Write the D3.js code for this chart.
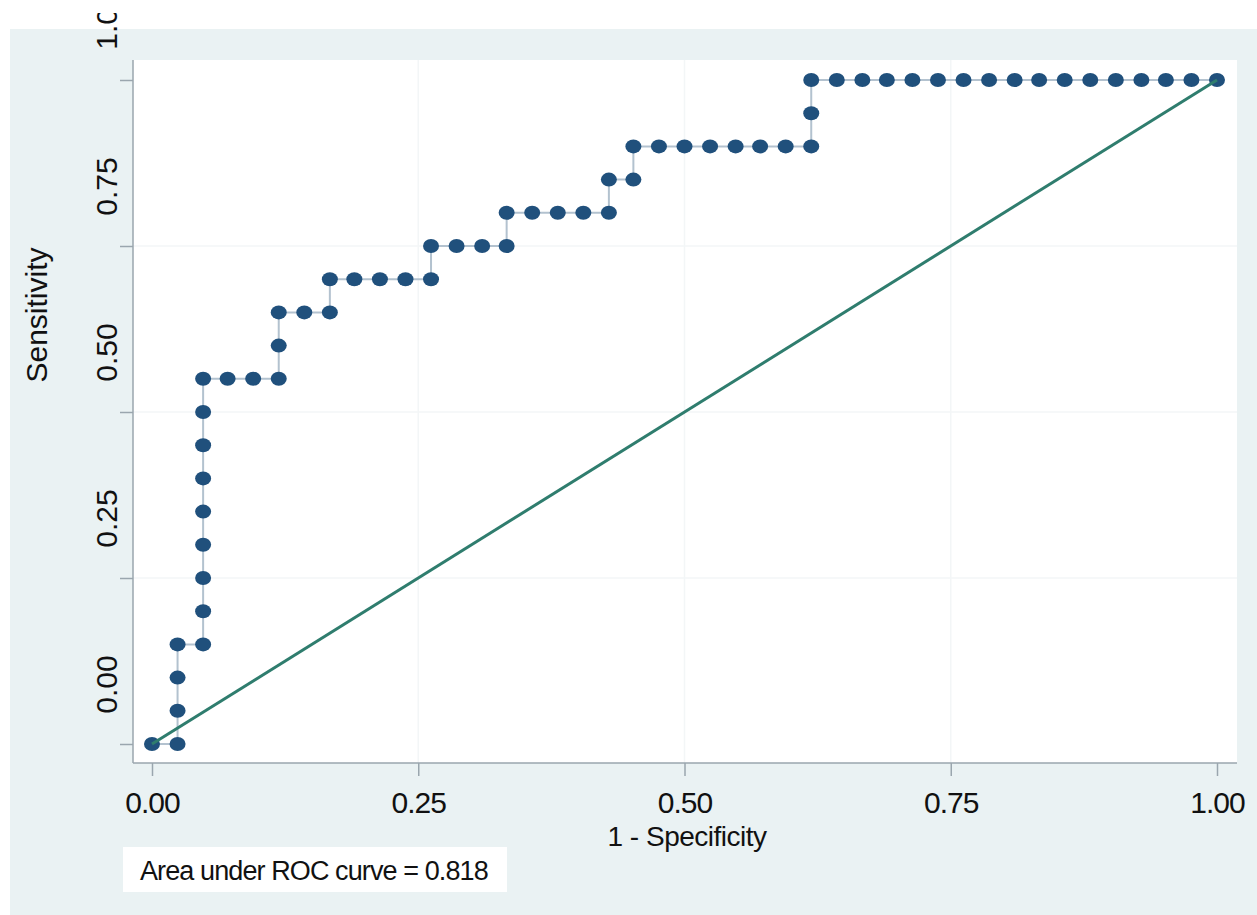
<!DOCTYPE html>
<html>
<head>
<meta charset="utf-8">
<script src="https://cdn.jsdelivr.net/npm/d3@7"></script>
<style>
  body { margin: 0; background: #fff; }
  svg { display: block; font-family: "Liberation Sans", Arial, sans-serif; }
</style>
</head>
<body>
<svg id="roc" width="1257" height="915"></svg>
<script>
// ROC points: 1 - specificity, sensitivity
var fpr = [
  0.000, 0.024, 0.024, 0.024, 0.024,
  0.048, 0.048, 0.048, 0.048, 0.048, 0.048, 0.048, 0.048, 0.048,
  0.071, 0.095, 0.119, 0.119, 0.119,
  0.143, 0.167, 0.167,
  0.190, 0.214, 0.238, 0.262, 0.262,
  0.286, 0.310, 0.333, 0.333,
  0.357, 0.381, 0.405, 0.429, 0.429,
  0.452, 0.452,
  0.476, 0.500, 0.524, 0.548, 0.571, 0.595, 0.619, 0.619, 0.619,
  0.643, 0.667, 0.690, 0.714, 0.738, 0.762, 0.786, 0.810,
  0.833, 0.857, 0.881, 0.905, 0.929, 0.952, 0.976, 1.000
];
var sens = [
  0.00, 0.00, 0.05, 0.10, 0.15,
  0.15, 0.20, 0.25, 0.30, 0.35, 0.40, 0.45, 0.50, 0.55,
  0.55, 0.55, 0.55, 0.60, 0.65,
  0.65, 0.65, 0.70,
  0.70, 0.70, 0.70, 0.70, 0.75,
  0.75, 0.75, 0.75, 0.80,
  0.80, 0.80, 0.80, 0.80, 0.85,
  0.85, 0.90,
  0.90, 0.90, 0.90, 0.90, 0.90, 0.90, 0.90, 0.95, 1.00,
  1.00, 1.00, 1.00, 1.00, 1.00, 1.00, 1.00, 1.00,
  1.00, 1.00, 1.00, 1.00, 1.00, 1.00, 1.00, 1.00
];
var refLine = [[0, 0], [1, 1]];
var xTicks = [0, 0.25, 0.5, 0.75, 1];
var yTicks = [0, 0.25, 0.5, 0.75, 1];
var xTitle = '1 - Specificity';
var yTitle = 'Sensitivity';
var aucNote = 'Area under ROC curve = 0.818';

var points = fpr.map(function (d, i) { return { x: d, y: sens[i] }; });

var svg = d3.select('#roc');
var plot = { left: 133, top: 60, right: 1237, bottom: 763 };

var x = d3.scaleLinear().domain([0, 1]).range([152, 1217]);
var y = d3.scaleLinear().domain([0, 1]).range([744, 80]);

// the top-most y label is cut off in the original picture
svg.append('clipPath').attr('id', 'labclip')
    .append('rect').attr('x', -300).attr('y', 13).attr('width', 1600).attr('height', 902);

// outer background
svg.append('rect')
    .attr('x', 10).attr('y', 29)
    .attr('width', 1247).attr('height', 886)
    .attr('fill', '#eaf2f3');

// plot region
svg.append('rect')
    .attr('x', plot.left).attr('y', plot.top)
    .attr('width', plot.right - plot.left).attr('height', plot.bottom - plot.top)
    .attr('fill', '#ffffff');

// faint grid
svg.append('g').selectAll('line')
    .data(xTicks.slice(1, -1)).enter().append('line')
    .attr('x1', function (d) { return x(d); }).attr('x2', function (d) { return x(d); })
    .attr('y1', plot.top).attr('y2', plot.bottom)
    .attr('stroke', '#f3f6f7').attr('stroke-width', 1.5);
svg.append('g').selectAll('line')
    .data(yTicks.slice(1, -1)).enter().append('line')
    .attr('x1', plot.left).attr('x2', plot.right)
    .attr('y1', function (d) { return y(d); }).attr('y2', function (d) { return y(d); })
    .attr('stroke', '#f3f6f7').attr('stroke-width', 1.5);

// axes
var xAxis = svg.append('g')
    .attr('transform', 'translate(0,' + plot.bottom + ')')
    .call(d3.axisBottom(x).tickValues(xTicks).tickFormat(d3.format('.2f')).tickSize(13));
xAxis.select('.domain').remove();
xAxis.selectAll('.tick line').attr('stroke', '#9aa6ae').attr('stroke-width', 1.5);
xAxis.selectAll('.tick text')
    .attr('y', 50).attr('dy', null)
    .attr('font-size', 30).attr('letter-spacing', -1)
    .attr('fill', '#111');

var yAxis = svg.append('g')
    .attr('transform', 'translate(' + plot.left + ',0)')
    .attr('clip-path', 'url(#labclip)')
    .call(d3.axisLeft(y).tickValues(yTicks).tickFormat(d3.format('.2f')).tickSize(13));
yAxis.select('.domain').remove();
yAxis.selectAll('.tick line').attr('stroke', '#9aa6ae').attr('stroke-width', 1.5);
yAxis.selectAll('.tick text')
    .attr('x', null).attr('dy', null)
    .attr('transform', 'translate(-16,-60) rotate(-90)')
    .attr('text-anchor', 'middle')
    .attr('font-size', 30)
    .attr('fill', '#111');

svg.append('line')
    .attr('x1', plot.left).attr('x2', plot.left)
    .attr('y1', plot.top).attr('y2', plot.bottom)
    .attr('stroke', '#9aa6ae').attr('stroke-width', 1.5);
svg.append('line')
    .attr('x1', plot.left).attr('x2', plot.right)
    .attr('y1', plot.bottom).attr('y2', plot.bottom)
    .attr('stroke', '#9aa6ae').attr('stroke-width', 1.5);

// axis titles
svg.append('text')
    .attr('transform', 'translate(47,315) rotate(-90)')
    .attr('text-anchor', 'middle')
    .attr('font-size', 30)
    .attr('fill', '#111')
    .text(yTitle);
svg.append('text')
    .attr('x', 687).attr('y', 846)
    .attr('text-anchor', 'middle')
    .attr('font-size', 28).attr('letter-spacing', -0.5)
    .attr('fill', '#111')
    .text(xTitle);

// ROC curve
var line = d3.line()
    .x(function (d) { return x(d.x); })
    .y(function (d) { return y(d.y); });
svg.append('path')
    .datum(points)
    .attr('fill', 'none')
    .attr('stroke', '#b3c2cf')
    .attr('stroke-width', 2)
    .attr('d', line);
svg.append('g').selectAll('ellipse')
    .data(points).enter().append('ellipse')
    .attr('cx', function (d) { return x(d.x); })
    .attr('cy', function (d) { return y(d.y); })
    .attr('rx', 8).attr('ry', 7)
    .attr('fill', '#20507c');

// reference line
svg.append('path')
    .datum(refLine)
    .attr('fill', 'none')
    .attr('stroke', '#2f7d6e')
    .attr('stroke-width', 3)
    .attr('d', d3.line().x(function (d) { return x(d[0]); }).y(function (d) { return y(d[1]); }));

// AUC note
svg.append('rect')
    .attr('x', 123).attr('y', 847)
    .attr('width', 384).attr('height', 45)
    .attr('fill', '#ffffff');
svg.append('text')
    .attr('x', 140).attr('y', 880)
    .attr('font-size', 27).attr('letter-spacing', -0.9)
    .attr('fill', '#111')
    .text(aucNote);
</script>
</body>
</html>
